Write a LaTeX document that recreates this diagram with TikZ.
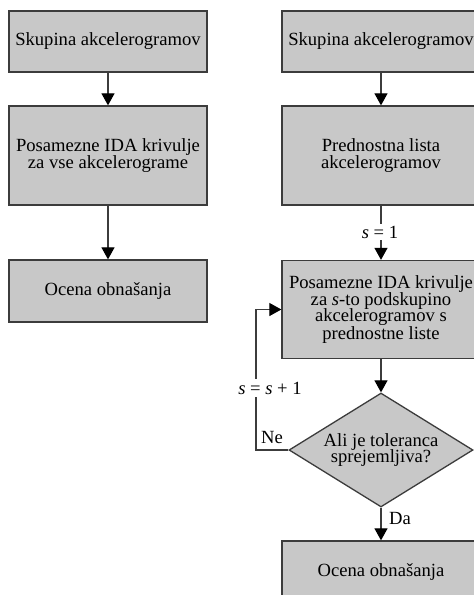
\documentclass[tikz,border=0pt]{standalone}
\usepackage{fontspec}
\setmainfont{Liberation Serif}
\usetikzlibrary{shapes.geometric,arrows.meta}
\definecolor{boxfill}{RGB}{200,200,200}
\definecolor{boxline}{RGB}{60,60,60}
\tikzset{
  procbox/.style={draw=boxline, fill=boxfill, line width=1.3pt, minimum width=198pt, inner sep=0pt, align=center, font=\fontsize{18.6}{16.9}\selectfont},
  decbox/.style={draw=boxline, fill=boxfill, line width=1.3pt, diamond, minimum width=184pt, minimum height=114pt, aspect=1.614, inner sep=0pt, align=center, font=\fontsize{18.6}{16.9}\selectfont},
  conn/.style={draw=boxline, line width=1.1pt, -{Triangle[width=13pt,length=12pt,fill=black,color=black]}},
  lbl/.style={fill=white, inner sep=1.5pt, font=\fontsize{18.6}{16.9}\selectfont}
}
\begin{document}
\begin{tikzpicture}[x=1pt,y=-1pt]
\useasboundingbox (0,0) rectangle (474,595);
\clip (0,0) rectangle (474,595);
\fill[white] (0,0) rectangle (474,595);
% left column
\node[procbox, minimum height=61pt] (L1) at (108,41.5) {Skupina akcelerogramov};
\node[procbox, minimum height=99pt] (L2) at (108,155.5) {Posamezne IDA krivulje\\za vse akcelerograme};
\node[procbox, minimum height=62pt] (L3) at (108,291) {Ocena obnašanja};
\draw[conn] (L1.south) -- (L2.north);
\draw[conn] (L2.south) -- (L3.north);
% right column
\node[procbox, minimum height=61pt] (R1) at (381,41.5) {Skupina akcelerogramov};
\node[procbox, minimum height=99pt] (R2) at (381,155.5) {Prednostna lista\\akcelerogramov};
\node[procbox, minimum height=98pt] (R3) at (381,309.5) {Posamezne IDA krivulje\\za \textit{s}-to podskupino\\akcelerogramov s\\prednostne liste};
\node[decbox] (D) at (381,450) {Ali je toleranca\\sprejemljiva?};
\node[procbox, minimum height=62pt] (R4) at (381,572) {Ocena obnašanja};
\coordinate (fb) at (256,450);
\draw[conn] (R1.south) -- (R2.north);
\draw[conn] (R2.south) -- (R3.north);
\draw[conn] (R3.south) -- (D.north);
\draw[conn] (D.south) -- (R4.north);
\draw[conn] (D.west) -- (fb) |- (R3.west);
% labels
\node[lbl] (s1) at (380,232) {\textit{s} = 1};
\node[lbl, inner sep=3pt] (ss) at (270,388) {\textit{s} = \textit{s} + 1};
\node[font=\fontsize{18.6}{16.9}\selectfont, inner sep=0pt] (ne) at (272,437) {Ne};
\node[font=\fontsize{18.6}{16.9}\selectfont, inner sep=0pt] (da) at (400,518) {Da};
\end{tikzpicture}
\end{document}
